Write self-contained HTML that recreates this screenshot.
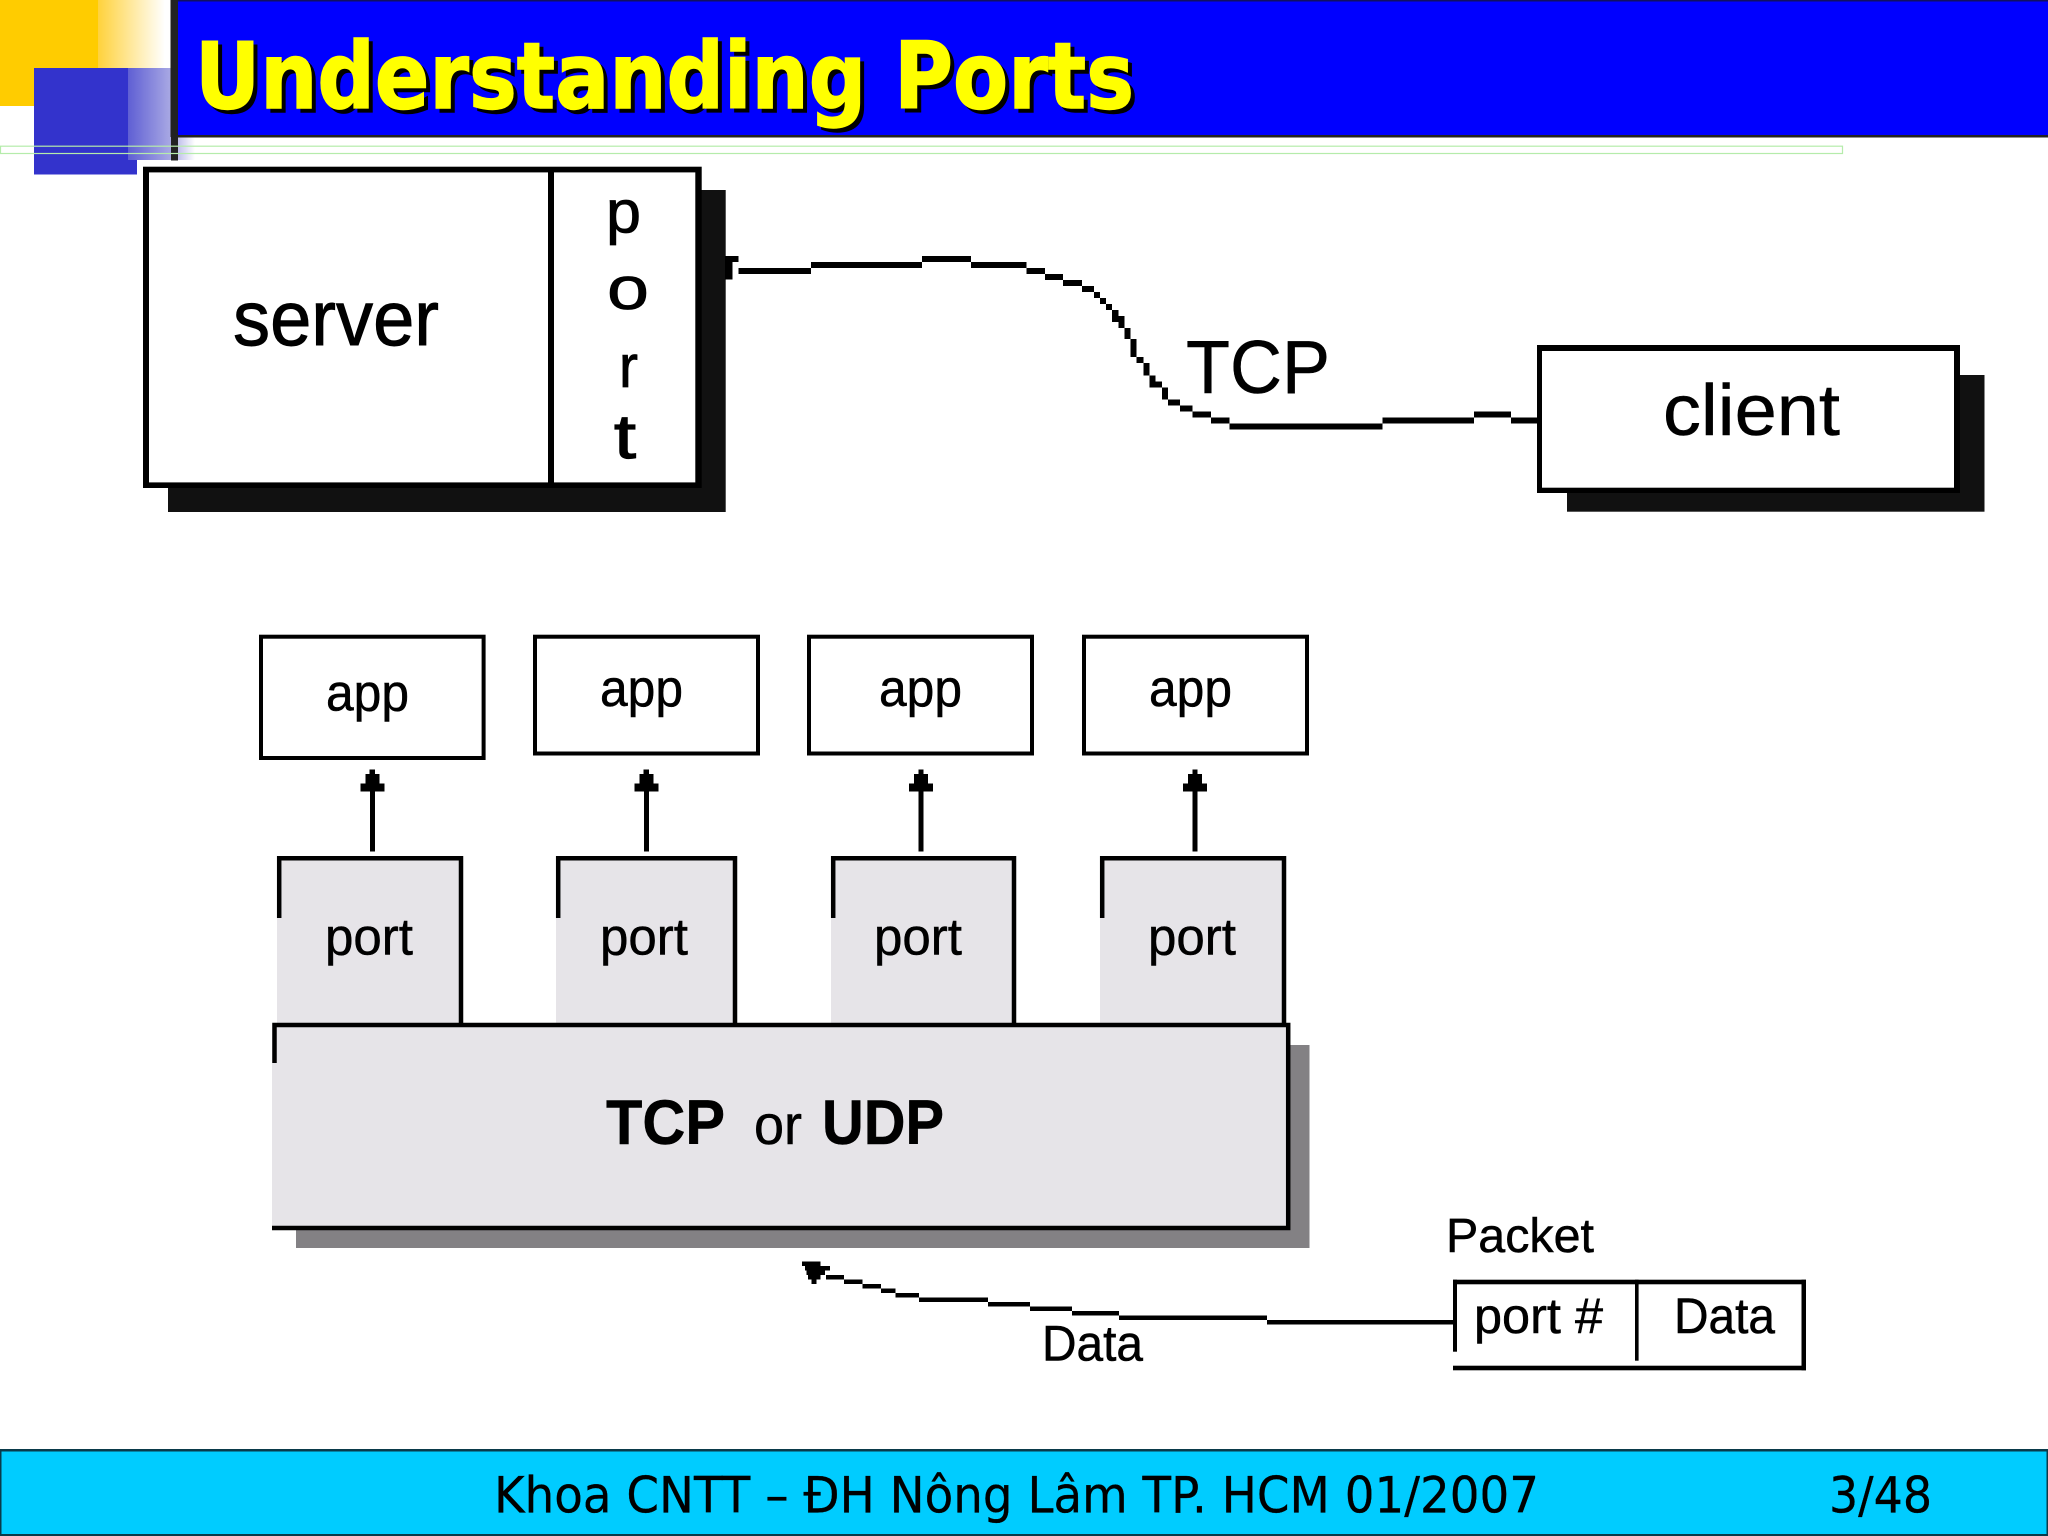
<!DOCTYPE html>
<html>
<head>
<meta charset="utf-8">
<title>Understanding Ports</title>
<style>
html,body{margin:0;padding:0;background:#fff;width:2048px;height:1536px;overflow:hidden}
svg{display:block}
.s{font-family:"Liberation Sans",sans-serif;fill:#000;stroke:#000;stroke-width:.5}
.d{font-family:"DejaVu Sans",sans-serif}
</style>
</head>
<body>
<svg width="2048" height="1536" viewBox="0 0 2048 1536" xmlns="http://www.w3.org/2000/svg">
<defs>
<linearGradient id="y" x1="0" x2="1" y1="0" y2="0"><stop offset="0" stop-color="#ffd23c"/><stop offset="1" stop-color="#ffffff"/></linearGradient>
<linearGradient id="b" x1="0" x2="1" y1="0" y2="0"><stop offset="0" stop-color="#5f5fd4"/><stop offset="0.65" stop-color="#aaaae4"/><stop offset="1" stop-color="#ffffff"/></linearGradient>
</defs>

<!-- corner decoration -->
<rect x="0" y="0" width="98" height="106" fill="#ffcc00"/>
<rect x="98" y="0" width="67" height="106" fill="url(#y)"/>
<rect x="34" y="68" width="94" height="92" fill="#3333cc"/>
<rect x="128" y="68" width="67" height="92" fill="url(#b)"/>
<rect x="34" y="160" width="103" height="14.5" fill="#3333cc"/>

<!-- header -->
<rect x="178" y="0" width="1870" height="137" fill="#0000ff"/>
<rect x="178" y="0" width="1870" height="1.5" fill="#101060"/>
<rect x="178" y="135" width="1870" height="2.5" fill="#222"/>
<rect x="170.5" y="0" width="7.5" height="137" fill="#222"/>
<rect x="171" y="137" width="7" height="23.5" fill="#222"/>
<rect x="0.5" y="146.2" width="1842" height="7.3" fill="none" stroke="#b5ecab" stroke-width="1.2"/>
<text class="d" x="199" y="112" font-size="92" font-weight="bold" fill="#000" stroke="#000" stroke-width="1.4" textLength="939" lengthAdjust="spacingAndGlyphs">Understanding Ports</text>
<text class="d" x="195" y="108" font-size="92" font-weight="bold" fill="#ffff00" stroke="#ffff00" stroke-width="1.4" textLength="939" lengthAdjust="spacingAndGlyphs">Understanding Ports</text>

<!-- server -->
<rect x="168" y="190" width="557.7" height="322" fill="#111"/>
<rect x="143" y="166.7" width="558.7" height="321.3" fill="#000"/>
<rect x="149" y="172.4" width="399" height="310" fill="#fff"/>
<rect x="554" y="172.4" width="141.3" height="310" fill="#fff"/>
<text class="s" x="233" y="345" font-size="78" style="stroke-width:.9" textLength="206" lengthAdjust="spacingAndGlyphs">server</text>
<text class="s" x="606" y="232.6" font-size="60" style="stroke-width:.8" textLength="35" lengthAdjust="spacingAndGlyphs">p</text>
<text class="s" x="607" y="309" font-size="60" style="stroke-width:.8" textLength="42" lengthAdjust="spacingAndGlyphs">o</text>
<text class="s" x="619" y="387" font-size="60" style="stroke-width:.8" textLength="19" lengthAdjust="spacingAndGlyphs">r</text>
<text class="s" x="614" y="458" font-size="62" style="stroke-width:1.2" textLength="22" lengthAdjust="spacingAndGlyphs">t</text>

<!-- TCP connection -->
<g fill="#000" shape-rendering="crispEdges">
<rect x="725" y="256" width="13.3" height="6"/>
<rect x="725" y="262" width="7.3" height="17.3"/>
<rect x="738.3" y="268" width="72.7" height="6"/>
<rect x="811" y="262" width="111" height="6"/>
<rect x="922" y="256" width="49" height="6"/>
<rect x="971" y="262" width="55.7" height="6"/>
<rect x="1026.7" y="268" width="18.3" height="6"/>
<rect x="1045" y="274" width="18" height="6"/>
<rect x="1063" y="280" width="19" height="6"/>
<rect x="1082" y="286" width="12" height="6"/>
<rect x="1094" y="292" width="6" height="6"/>
<rect x="1100" y="298" width="6" height="6"/>
<rect x="1106" y="304" width="6" height="6"/>
<rect x="1112" y="310" width="6.7" height="12"/>
<rect x="1118.7" y="316" width="6" height="12"/>
<rect x="1124.7" y="328" width="6" height="11"/>
<rect x="1130.7" y="339" width="6" height="18"/>
<rect x="1136.7" y="357" width="6.6" height="6"/>
<rect x="1143.3" y="363" width="6" height="12.3"/>
<rect x="1149.3" y="375.3" width="6" height="12"/>
<rect x="1155.3" y="381.3" width="6.7" height="6"/>
<rect x="1162" y="387.3" width="6" height="12"/>
<rect x="1168" y="399.3" width="12" height="6"/>
<rect x="1180" y="405.3" width="12.3" height="6"/>
<rect x="1192.3" y="411.3" width="18.7" height="6"/>
<rect x="1211" y="417.3" width="18.3" height="6"/>
<rect x="1229.3" y="423.3" width="153.2" height="6"/>
<rect x="1382.5" y="417.3" width="91.5" height="6"/>
<rect x="1474" y="411.3" width="37" height="6"/>
<rect x="1511" y="417.3" width="26" height="6"/>
</g>
<text class="s" x="1186" y="393" font-size="75" textLength="144" lengthAdjust="spacingAndGlyphs">TCP</text>

<!-- client -->
<rect x="1567" y="375" width="417.5" height="136.7" fill="#111"/>
<rect x="1537" y="345" width="423" height="148" fill="#000"/>
<rect x="1542" y="351" width="412" height="136.7" fill="#fff"/>
<text class="s" x="1663" y="435" font-size="72" textLength="177" lengthAdjust="spacingAndGlyphs">client</text>

<!-- app boxes -->
<g fill="#fff" stroke="#000" stroke-width="4">
<rect x="261" y="636.7" width="222.6" height="121.3"/>
<rect x="535" y="636.7" width="223" height="116.8"/>
<rect x="809" y="636.7" width="223" height="116.8"/>
<rect x="1084" y="636.7" width="223" height="116.8"/>
</g>
<text class="s" x="326" y="710.5" font-size="52" textLength="83" lengthAdjust="spacingAndGlyphs">app</text>
<text class="s" x="600" y="706" font-size="52" textLength="83" lengthAdjust="spacingAndGlyphs">app</text>
<text class="s" x="879" y="706" font-size="52" textLength="83" lengthAdjust="spacingAndGlyphs">app</text>
<text class="s" x="1149" y="706" font-size="52" textLength="83" lengthAdjust="spacingAndGlyphs">app</text>

<!-- arrows -->
<g fill="#000" shape-rendering="crispEdges">
<polygon transform="translate(372.3 0)" points="-2.7,769.3 2.7,769.3 2.7,774 7,774 7,783.3 12,783.3 12,791.7 2.5,791.7 2.5,851.5 -2.5,851.5 -2.5,791.7 -12,791.7 -12,783.3 -7,783.3 -7,774 -2.7,774"/>
<polygon transform="translate(646.3 0)" points="-2.7,769.3 2.7,769.3 2.7,774 7,774 7,783.3 12,783.3 12,791.7 2.5,791.7 2.5,851.5 -2.5,851.5 -2.5,791.7 -12,791.7 -12,783.3 -7,783.3 -7,774 -2.7,774"/>
<polygon transform="translate(921 0)" points="-2.7,769.3 2.7,769.3 2.7,774 7,774 7,783.3 12,783.3 12,791.7 2.5,791.7 2.5,851.5 -2.5,851.5 -2.5,791.7 -12,791.7 -12,783.3 -7,783.3 -7,774 -2.7,774"/>
<polygon transform="translate(1195 0)" points="-2.7,769.3 2.7,769.3 2.7,774 7,774 7,783.3 12,783.3 12,791.7 2.5,791.7 2.5,851.5 -2.5,851.5 -2.5,791.7 -12,791.7 -12,783.3 -7,783.3 -7,774 -2.7,774"/>
</g>

<!-- port boxes -->
<g fill="#e6e4e8">
<rect x="277" y="856" width="186" height="170"/>
<rect x="556" y="856" width="181" height="170"/>
<rect x="831" y="856" width="185" height="170"/>
<rect x="1100" y="856" width="186" height="170"/>
</g>
<g fill="none" stroke="#000" stroke-width="4.5">
<polyline points="279.2,918 279.2,858.2 461,858.2 461,1024"/>
<polyline points="558.2,918 558.2,858.2 735,858.2 735,1024"/>
<polyline points="833.2,918 833.2,858.2 1014,858.2 1014,1024"/>
<polyline points="1102.2,918 1102.2,858.2 1284,858.2 1284,1024"/>
</g>
<text class="s" x="325" y="954.6" font-size="52" textLength="88" lengthAdjust="spacingAndGlyphs">port</text>
<text class="s" x="600" y="954.6" font-size="52" textLength="88" lengthAdjust="spacingAndGlyphs">port</text>
<text class="s" x="874" y="954.6" font-size="52" textLength="88" lengthAdjust="spacingAndGlyphs">port</text>
<text class="s" x="1148" y="954.6" font-size="52" textLength="88" lengthAdjust="spacingAndGlyphs">port</text>

<!-- TCP or UDP -->
<rect x="296" y="1045" width="1013.5" height="203" fill="#838184"/>
<rect x="272" y="1024" width="1016" height="205" fill="#e6e4e8"/>
<polyline points="274.5,1063 274.5,1025 1288.2,1025 1288.2,1228 272,1228" fill="none" stroke="#000" stroke-width="4.5"/>
<text class="s" x="606" y="1144" font-size="63" font-weight="bold" textLength="119" lengthAdjust="spacingAndGlyphs">TCP</text>
<text class="s" x="754" y="1144" font-size="56" textLength="48" lengthAdjust="spacingAndGlyphs">or</text>
<text class="s" x="822" y="1144" font-size="63" font-weight="bold" textLength="122" lengthAdjust="spacingAndGlyphs">UDP</text>

<!-- Data arrow -->
<g fill="#000" shape-rendering="crispEdges">
<rect x="802" y="1261.7" width="18.7" height="4.3"/>
<rect x="805" y="1266" width="25" height="4.7"/>
<rect x="806.7" y="1270.7" width="18.3" height="4.3"/>
<rect x="808" y="1275" width="12.7" height="4.3"/>
<rect x="811.7" y="1279.3" width="5" height="4.7"/>
<rect x="826" y="1275" width="18" height="4.5"/>
<rect x="844" y="1279.5" width="18.7" height="4.5"/>
<rect x="862.7" y="1284" width="18.3" height="4.5"/>
<rect x="881" y="1288.5" width="14.3" height="4.5"/>
<rect x="895.3" y="1293" width="23.7" height="4.5"/>
<rect x="919" y="1297.5" width="69" height="4.5"/>
<rect x="988" y="1302" width="42" height="4.5"/>
<rect x="1030" y="1306.5" width="42" height="4.5"/>
<rect x="1072" y="1311" width="47" height="4.5"/>
<rect x="1119" y="1315.5" width="148" height="4.5"/>
<rect x="1267" y="1320" width="188" height="4.5"/>
</g>
<text class="s" x="1042" y="1360.7" font-size="50" textLength="101" lengthAdjust="spacingAndGlyphs">Data</text>

<!-- Packet -->
<text class="s" x="1446" y="1252" font-size="48" textLength="148" lengthAdjust="spacingAndGlyphs">Packet</text>
<g fill="#000">
<rect x="1453" y="1279.7" width="353" height="4.6"/>
<rect x="1453" y="1365.7" width="353" height="4.6"/>
<rect x="1801.5" y="1279.7" width="4.5" height="90.6"/>
<rect x="1453" y="1279.7" width="4" height="72"/>
<rect x="1635" y="1279.7" width="3.6" height="81"/>
</g>
<text class="s" x="1474" y="1333" font-size="50" textLength="129" lengthAdjust="spacingAndGlyphs">port #</text>
<text class="s" x="1674" y="1333" font-size="50" textLength="101" lengthAdjust="spacingAndGlyphs">Data</text>

<!-- footer -->
<rect x="0" y="1449" width="2048" height="87" fill="#00ccff"/>
<rect x="0" y="1449" width="2048" height="2.5" fill="#0a3a4a"/>
<rect x="0" y="1534" width="2048" height="2" fill="#0a3a4a"/>
<rect x="0" y="1449" width="1.5" height="87" fill="#0a3a4a"/>
<rect x="2046.5" y="1449" width="1.5" height="87" fill="#0a3a4a"/>
<text class="d" x="494" y="1512.7" font-size="50" fill="#000" stroke="#000" stroke-width=".3" textLength="1045" lengthAdjust="spacingAndGlyphs">Khoa CNTT – ĐH Nông Lâm TP. HCM 01/2007</text>
<text class="d" x="1829" y="1512.7" font-size="50" fill="#000" stroke="#000" stroke-width=".3" textLength="103" lengthAdjust="spacingAndGlyphs">3/48</text>
</svg>
</body>
</html>
